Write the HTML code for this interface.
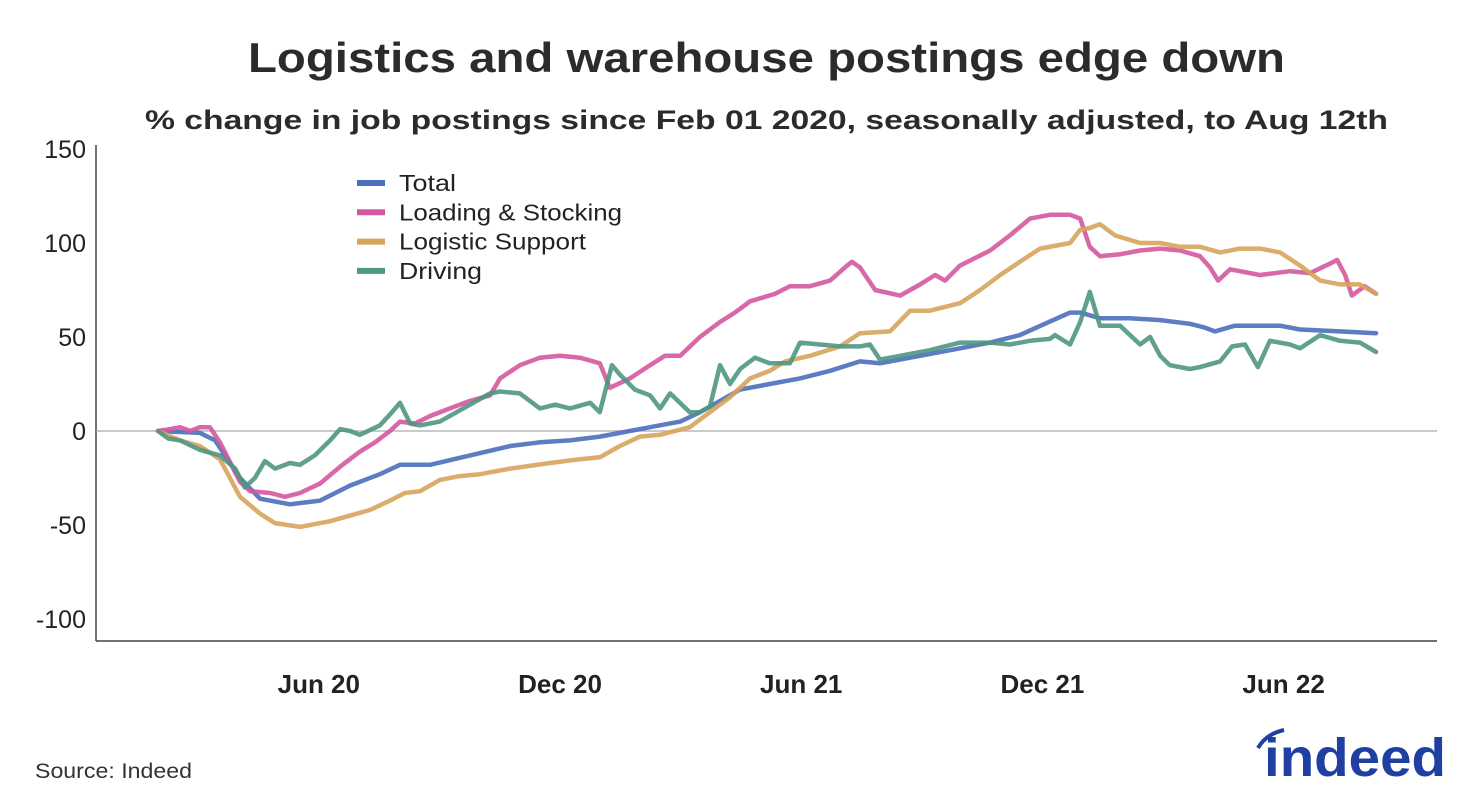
<!DOCTYPE html>
<html><head><meta charset="utf-8"><style>
body{margin:0;background:#fff;}
svg{display:block;font-family:"Liberation Sans","DejaVu Sans",sans-serif;}
</style></head><body>
<svg id="chart" width="1463" height="797" viewBox="0 0 1463 797">
<text x="248" y="72" textLength="1037" lengthAdjust="spacingAndGlyphs" font-size="42" font-weight="bold" fill="#2b2b2b">Logistics and warehouse postings edge down</text>
<text x="145" y="129" textLength="1243" lengthAdjust="spacingAndGlyphs" font-size="27" font-weight="bold" fill="#2b2b2b">% change in job postings since Feb 01 2020, seasonally adjusted, to Aug 12th</text>
<g id="axes"></g>
<g id="series"></g>
<g id="legend"></g>
<text x="35" y="778" textLength="157" lengthAdjust="spacingAndGlyphs" font-size="21" fill="#333">Source: Indeed</text>
<g>
<path d="M1258 748 Q1266 734 1284 730" stroke="#1f3fa3" stroke-width="4" fill="none"/>
<text x="1264" y="776" textLength="182" lengthAdjust="spacingAndGlyphs" font-size="54" font-weight="bold" fill="#1f3fa3">indeed</text>
</g>
</svg>
<script>
const xTickLabels=["Jun 20","Dec 20","Jun 21","Dec 21","Jun 22"];
const xTickMonths=[4,10,16,22,28];
const yTicks=[150,100,50,0,-50,-100];
const seriesNames=["Total","Loading & Stocking","Logistic Support","Driving"];
const seriesColors=["#4a6fba","#d4589f","#d6a45c","#4f9683"];
const legendWidths=[57,223,187,83];
const totalX=[0,1.04,1.42,2.04,2.54,3.28,4.03,4.78,5.52,6.02,6.77,7.76,8.76,9.5,10.25,10.99,11.49,12.24,12.99,13.48,13.98,14.48,15.22,15.97,16.72,17.46,17.96,18.96,19.95,20.7,21.44,22.06,22.69,22.94,23.43,24.18,24.93,25.67,26.04,26.29,26.79,27.91,28.41,29.4,30.3];
const totalY=[0,-1,-5,-25,-36,-39,-37,-29,-23,-18,-18,-13,-8,-6,-5,-3,-1,2,5,10,16,22,25,28,32,37,36,40,44,47,51,57,63,63,60,60,59,57,55,53,56,56,54,53,52];
const loadX=[0,0.3,0.55,0.8,1.04,1.29,1.54,2.04,2.29,2.79,3.16,3.53,4.03,4.53,5.02,5.4,5.77,6.02,6.39,6.77,7.26,7.76,8.26,8.51,9,9.5,10,10.5,10.99,11.24,11.74,12.24,12.61,12.99,13.48,13.98,14.35,14.73,15.35,15.72,16.22,16.72,17.09,17.26,17.46,17.84,18.46,18.96,19.33,19.58,19.95,20.7,21.19,21.69,22.19,22.69,22.94,23.18,23.43,23.93,24.43,24.93,25.42,25.92,26.17,26.37,26.67,27.41,28.16,28.66,29.15,29.33,29.53,29.7,30.02,30.3];
const loadY=[0,1,2,0,2,2,-6,-27,-32,-33,-35,-33,-28,-19,-11,-6,0,5,4,8,12,16,19,28,35,39,40,39,36,23,28,35,40,40,50,58,63,69,73,77,77,80,87,90,87,75,72,78,83,80,88,96,104,113,115,115,113,98,93,94,96,97,96,93,87,80,86,83,85,84,89,91,83,72,77,73];
const logX=[0,0.55,1.04,1.54,2.04,2.54,2.91,3.53,4.28,4.78,5.27,5.77,6.14,6.52,7.01,7.51,8.01,8.76,9.75,10.5,10.99,11.49,11.99,12.49,13.23,13.73,14.23,14.73,15.22,15.6,16.22,16.97,17.46,18.21,18.71,19.2,19.95,20.45,20.95,21.44,21.94,22.44,22.69,22.94,23.18,23.43,23.81,24.43,24.93,25.42,25.92,26.42,26.92,27.41,27.91,28.41,28.91,29.4,29.9,30.3];
const logY=[0,-5,-8,-15,-35,-44,-49,-51,-48,-45,-42,-37,-33,-32,-26,-24,-23,-20,-17,-15,-14,-8,-3,-2,2,10,18,28,32,37,40,45,52,53,64,64,68,75,83,90,97,99,100,107,108,110,104,100,100,98,98,95,97,97,95,88,80,78,78,73];
const drvX=[0,0.25,0.55,1.04,1.54,1.92,2.16,2.41,2.66,2.91,3.28,3.53,3.9,4.28,4.53,4.78,5.02,5.52,5.82,6.02,6.27,6.52,7.01,7.51,8.01,8.26,8.51,9,9.25,9.5,9.88,10.25,10.75,10.99,11.29,11.49,11.86,12.24,12.49,12.74,13.23,13.48,13.73,13.98,14.23,14.48,14.85,15.22,15.72,15.97,16.47,16.97,17.46,17.71,17.96,18.46,19.2,19.95,20.7,21.19,21.69,22.19,22.31,22.69,22.94,23.18,23.43,23.93,24.43,24.68,24.93,25.17,25.67,25.92,26.42,26.72,27.04,27.36,27.66,28.16,28.41,28.91,29.4,29.9,30.3];
const drvY=[0,-4,-5,-10,-13,-20,-30,-25,-16,-20,-17,-18,-13,-5,1,0,-2,3,10,15,4,3,5,11,17,20,21,20,16,12,14,12,15,10,35,30,22,19,12,20,10,10,13,35,25,33,39,36,36,47,46,45,45,46,38,40,43,47,47,46,48,49,51,46,58,74,56,56,46,50,40,35,33,34,37,45,46,34,48,46,44,51,48,47,42];
const seriesX=[totalX,loadX,logX,drvX];
const seriesY=[totalY,loadY,logY,drvY];
const NS="http://www.w3.org/2000/svg";
const L=96,R=1437,B=641,T=145;
const xs=m=>158+m*40.2;
const ys=v=>431-v*1.88;
const axes=document.getElementById('axes');
function mk(tag,attrs,parent){const e=document.createElementNS(NS,tag);for(const k in attrs)e.setAttribute(k,attrs[k]);parent.appendChild(e);return e;}
const yax=mk('line',{x1:L,x2:L,y1:T,y2:B,stroke:'#444','stroke-width':1.5},axes);


const xax=mk('line',{x1:L,x2:R,y1:B,y2:B,stroke:'#444','stroke-width':1.5},axes);


const zl=mk('line',{x1:L,x2:R,y1:ys(0),y2:ys(0),stroke:'#aaa','stroke-width':1.2},axes);


yTicks.forEach(v=>{const t=mk('text',{x:86,y:ys(v)+9,'text-anchor':'end','font-size':25,fill:'#222'},axes);t.textContent=v;

});
xTickLabels.forEach((lab,i)=>{const t=mk('text',{x:xs(xTickMonths[i]),y:693,'text-anchor':'middle','font-size':26,'font-weight':'bold',fill:'#222'},axes);t.textContent=lab;

});
const sg=document.getElementById('series');
seriesNames.forEach((n,i)=>{const d=seriesX[i].map((m,j)=>(j?'L':'M')+xs(m).toFixed(1)+' '+ys(seriesY[i][j]).toFixed(1)).join(' ');
const p=mk('path',{d:d,fill:'none',stroke:seriesColors[i],'stroke-width':4.5,'stroke-linejoin':'round','stroke-linecap':'round',opacity:0.9},sg);

});
const lg=document.getElementById('legend');
seriesNames.forEach((n,i)=>{const y=183+i*29.3;
const g=mk('g',{},lg);


mk('line',{x1:357,x2:385,y1:y,y2:y,stroke:seriesColors[i],'stroke-width':6},g);
const t=mk('text',{x:399,y:y+8,'font-size':23,fill:'#222',textLength:legendWidths[i],lengthAdjust:'spacingAndGlyphs'},g);t.textContent=n;});
</script>
</body></html>
